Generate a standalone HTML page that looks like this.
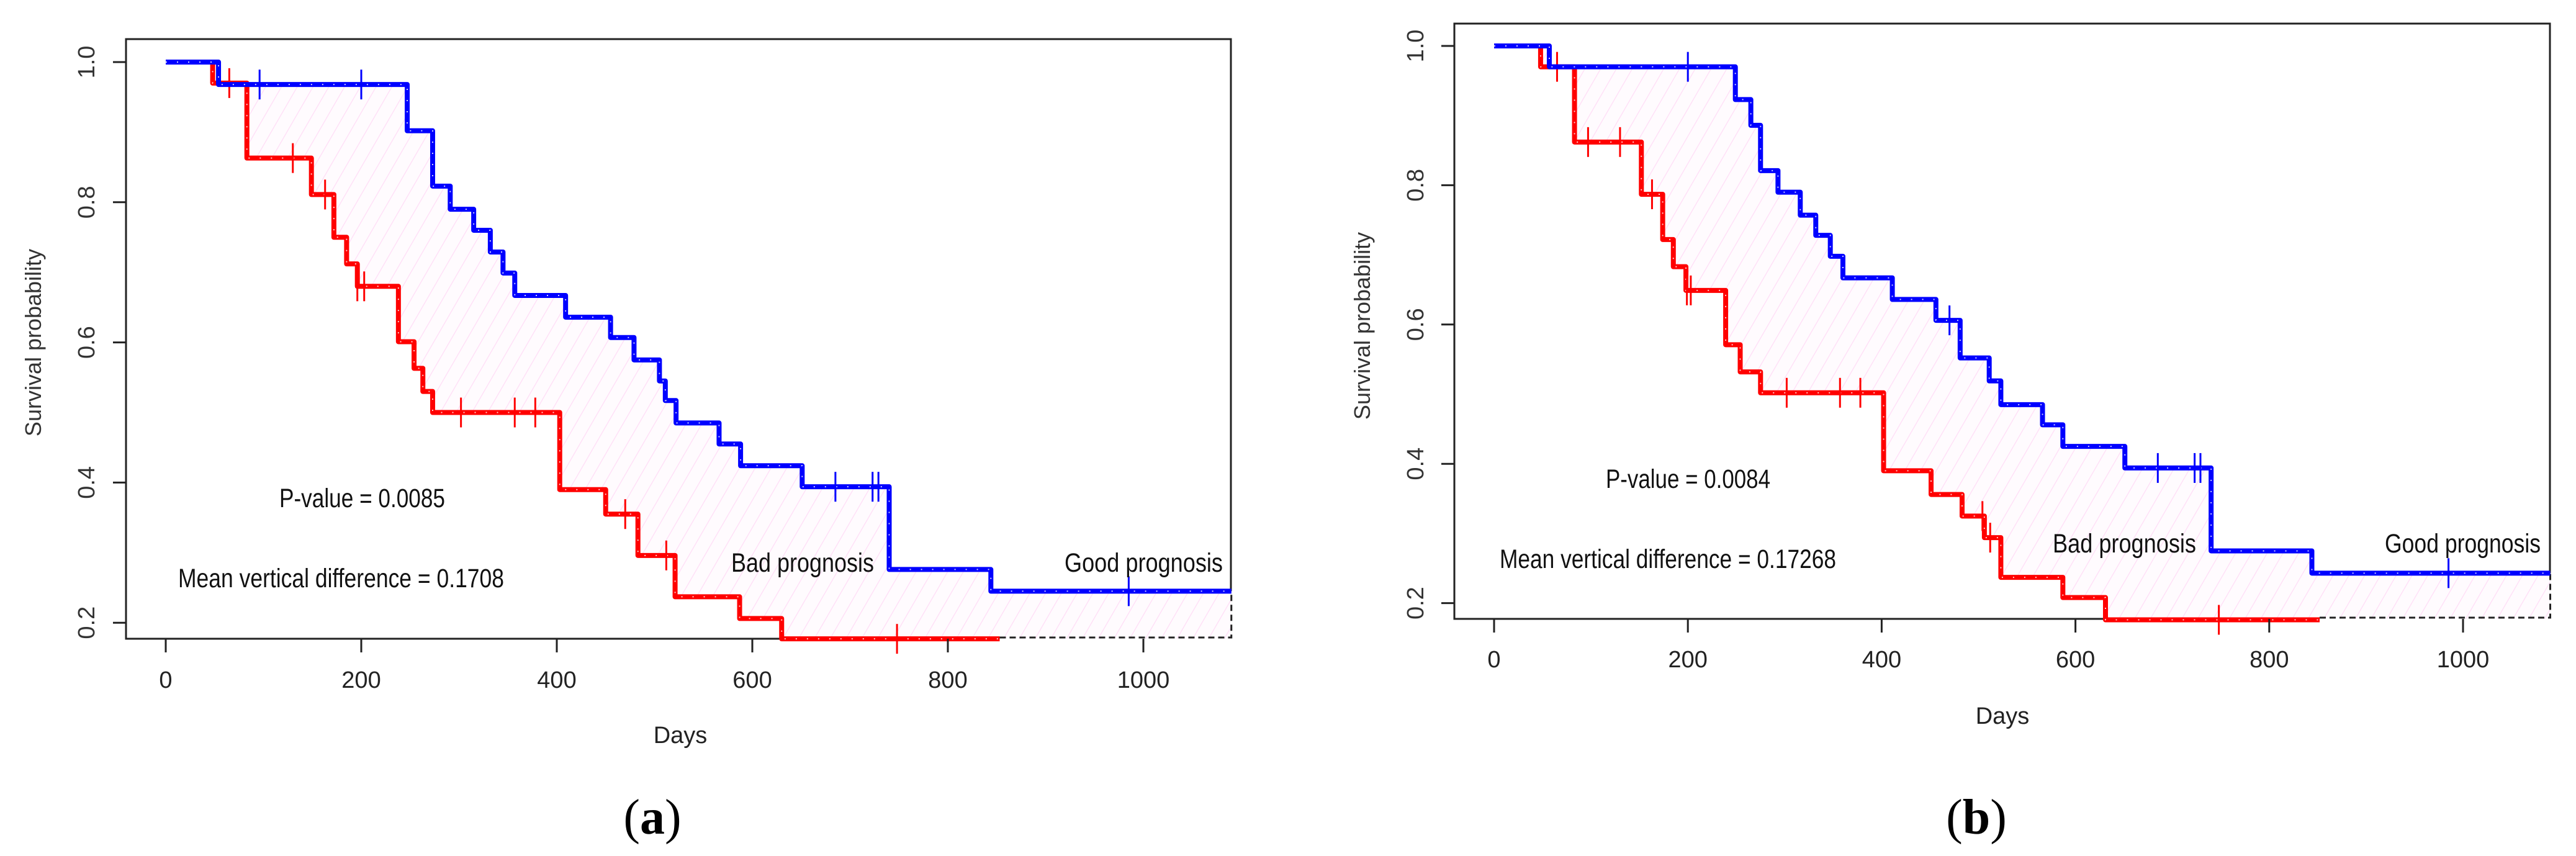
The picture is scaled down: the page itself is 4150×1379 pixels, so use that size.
<!DOCTYPE html>
<html><head><meta charset="utf-8"><style>
html,body{margin:0;padding:0;background:#fff;}
svg{display:block;}
</style></head><body>
<svg id="root" xmlns="http://www.w3.org/2000/svg" width="4150" height="1379" viewBox="0 0 4150 1379">
<defs>
<pattern id="hatch" patternUnits="userSpaceOnUse" width="22" height="22" patternTransform="rotate(30)">
<rect width="22" height="22" fill="#fffbfe"/>
<line x1="0" y1="0" x2="0" y2="22" stroke="#ffdcf6" stroke-width="2.5"/>
</pattern>
</defs>
</svg>
<script>
// ---- Panel A data ----
const aBlueTimes = [0,54,247,273,291,315,332,345,357,409,455,479,505,511,522,566,588,651,740,844];
const aBlueSurv  = [1.0,0.968,0.902,0.823,0.790,0.760,0.729,0.699,0.667,0.636,0.607,0.575,0.545,0.517,0.485,0.455,0.424,0.394,0.276,0.245];
const aBlueCens  = [96,200,685,723,729,985];
const aRedTimes  = [0,48,83,149,172,185,196,238,254,263,273,403,450,483,521,587,630];
const aRedSurv   = [1.0,0.970,0.863,0.811,0.750,0.712,0.680,0.601,0.563,0.530,0.500,0.390,0.355,0.296,0.237,0.206,0.177];
const aRedEnd = 853;
const aRedCens   = [65,130,163,196,203,302,357,378,470,512,748];
// ---- Panel B data ----
const bBlueTimes = [0,57,249,265,275,293,316,332,347,360,411,456,481,511,523,566,587,651,740,844];
const bBlueSurv  = [1.0,0.970,0.923,0.886,0.821,0.790,0.757,0.728,0.698,0.667,0.636,0.606,0.552,0.519,0.485,0.456,0.425,0.394,0.275,0.243];
const bBlueCens  = [200,470,685,723,729,985];
const bRedTimes  = [0,48,83,152,174,185,198,239,254,275,402,451,483,506,523,587,631];
const bRedSurv   = [1.0,0.970,0.862,0.787,0.722,0.683,0.649,0.571,0.532,0.502,0.390,0.356,0.325,0.294,0.237,0.208,0.176];
const bRedEnd = 852;
const bRedCens   = [65,97,130,163,199,203,302,357,378,504,512,748];
// ---- axes ----
const xTicks = [0,200,400,600,800,1000];
const yTicks = [0.2,0.4,0.6,0.8,1.0];
const yTickLabels = ["0.2","0.4","0.6","0.8","1.0"];
const xMax = 1090;

const NS = "http://www.w3.org/2000/svg";
const root = document.getElementById('root');
function mk(tag, attrs, parent){
  const e = document.createElementNS(NS, tag);
  for (const k in attrs) e.setAttribute(k, attrs[k]);
  (parent||root).appendChild(e);
  return e;
}
function survAt(times, surv, t){
  let s = surv[0];
  for (let i=0;i<times.length;i++){ if (times[i] <= t) s = surv[i]; }
  return s;
}
function stepPts(times, surv, end, X, Y){
  const pts = [];
  for (let i=0;i<times.length;i++){
    const t0 = times[i], t1 = (i+1<times.length)?times[i+1]:end;
    pts.push([X(t0),Y(surv[i])]); pts.push([X(t1),Y(surv[i])]);
  }
  return pts;
}
function drawPanel(P){
  const g = mk('g', {});
  
  
  const X = t => P.x0 + t*P.xk;
  const Y = v => P.y1 + (1-v)*P.yu;
  const up = stepPts(P.bt, P.bs, xMax, X, Y);
  const lo = stepPts(P.rt, P.rs, P.rend, X, Y);
  lo.push([X(P.rend), P.B]); lo.push([X(xMax), P.B]);
  const poly = up.concat(lo.reverse()).map(p=>p.join(',')).join(' ');
  const area = mk('polygon', {points: poly, fill:'url(#hatch)', stroke:'none'}, g);
  
  
  const db = mk('path', {d:`M${X(P.rend)},${P.B-2} L${X(xMax)},${P.B-2} L${X(xMax)},${Y(P.bs[P.bs.length-1])}`, fill:'none', stroke:'#222', 'stroke-width':3, 'stroke-dasharray':'10 6'}, g);
  
  
  const box = mk('path', {d:`M${X(P.rend)},${P.B} L${P.L},${P.B} L${P.L},${P.T} L${P.R},${P.T} L${P.R},${Y(P.bs[P.bs.length-1])}`, fill:'none', stroke:'#222', 'stroke-width':3}, g);
  
  
  function curve(times, surv, end, color, nm, cens){
    const pts = stepPts(times, surv, end, X, Y).map(p=>p.join(',')).join(' ');
    const l = mk('polyline', {points: pts, fill:'none', stroke:color, 'stroke-width':8, 'stroke-linejoin':'round'}, g);
    
    
    mk('polyline', {points: pts, fill:'none', stroke:'#fff', 'stroke-width':2, 'stroke-dasharray':'2 16', opacity:0.8}, g);
    cens.forEach(t=>{
      const cy = Y(survAt(times, surv, t));
      const c = mk('line', {x1:X(t), x2:X(t), y1:cy-24, y2:cy+24, stroke:color, 'stroke-width':3}, g);
      
      
    });
  }
  curve(P.rt, P.rs, P.rend, '#ff0000', 'bad-prognosis-curve', P.rc);
  curve(P.bt, P.bs, xMax, '#0000ff', 'good-prognosis-curve', P.bc);
  xTicks.forEach(t=>{
    mk('line', {x1:X(t), x2:X(t), y1:P.B, y2:P.B+22, stroke:'#222', 'stroke-width':3}, g);
    const tx = mk('text', {x:X(t), y:P.xlb, 'text-anchor':'middle', 'font-size':38, fill:'#222', 'font-family':'Liberation Sans, sans-serif'}, g);
    tx.textContent = t;
    
    
  });
  yTicks.forEach((v,i)=>{
    mk('line', {x1:P.L-21, x2:P.L, y1:Y(v), y2:Y(v), stroke:'#222', 'stroke-width':3}, g);
    const tx = mk('text', {x:0, y:0, 'text-anchor':'middle', 'font-size':38, fill:'#333', 'font-family':'Liberation Sans, sans-serif', transform:`translate(${P.ytx},${Y(v)}) rotate(-90)`}, g);
    tx.textContent = yTickLabels[i];
    
    
  });
  const yt = mk('text', {x:0,y:0,'text-anchor':'middle','font-size':36,fill:'#333','font-family':'Liberation Sans, sans-serif',transform:`translate(${P.ytitle},${P.ytitleY}) rotate(-90)`}, g);
  yt.textContent = 'Survival probability';
  
  
  const xt = mk('text', {x:P.daysX, y:P.daysY, 'text-anchor':'middle','font-size':38,fill:'#222','font-family':'Liberation Sans, sans-serif'}, g);
  xt.textContent = 'Days';
  
  
  function ann(txt, x1, x2, y, nm){
    const t = mk('text', {x:x1, y:y, 'font-size':43, fill:'#111', 'font-family':'Liberation Sans, sans-serif', textLength:x2-x1, lengthAdjust:'spacingAndGlyphs'}, g);
    t.textContent = txt;
    
    
  }
  ann(P.pText, P.pX[0], P.pX[1], P.pY, 'p-value-label');
  ann(P.mText, P.mX[0], P.mX[1], P.mY, 'mean-difference-label');
  ann('Bad prognosis', P.badX[0], P.badX[1], P.lblY, 'bad-prognosis-label');
  ann('Good prognosis', P.goodX[0], P.goodX[1], P.lblY, 'good-prognosis-label');
  const cap = mk('text', {x:P.capX, y:1343, 'text-anchor':'middle', 'font-size':80, fill:'#000', 'font-family':'Liberation Serif, serif'}, g);
  cap.innerHTML = '(<tspan font-weight="bold">'+P.cap+'</tspan>)';
  
  
}
drawPanel({name:'panel-a', L:203,T:63,R:1983,B:1029, x0:267, xk:1.575, y1:100, yu:1129,
  bt:aBlueTimes, bs:aBlueSurv, bc:aBlueCens, rt:aRedTimes, rs:aRedSurv, rc:aRedCens, rend:aRedEnd,
  xlb:1108, ytx:152, ytitle:66, ytitleY:552, daysX:1096, daysY:1197,
  pText:'P-value = 0.0085', pX:[450,717], pY:817,
  mText:'Mean vertical difference = 0.1708', mX:[287,812], mY:946,
  badX:[1178,1408], goodX:[1715,1970], lblY:921, capX:1051, cap:'a'});
drawPanel({name:'panel-b', L:2343,T:38,R:4108,B:997, x0:2407, xk:1.561, y1:74, yu:1122,
  bt:bBlueTimes, bs:bBlueSurv, bc:bBlueCens, rt:bRedTimes, rs:bRedSurv, rc:bRedCens, rend:bRedEnd,
  xlb:1075, ytx:2293, ytitle:2207, ytitleY:525, daysX:3226, daysY:1166,
  pText:'P-value = 0.0084', pX:[2587,2852], pY:786,
  mText:'Mean vertical difference = 0.17268', mX:[2416,2958], mY:915,
  badX:[3307,3538], goodX:[3842,4093], lblY:890, capX:3184, cap:'b'});
</script>
</body></html>
